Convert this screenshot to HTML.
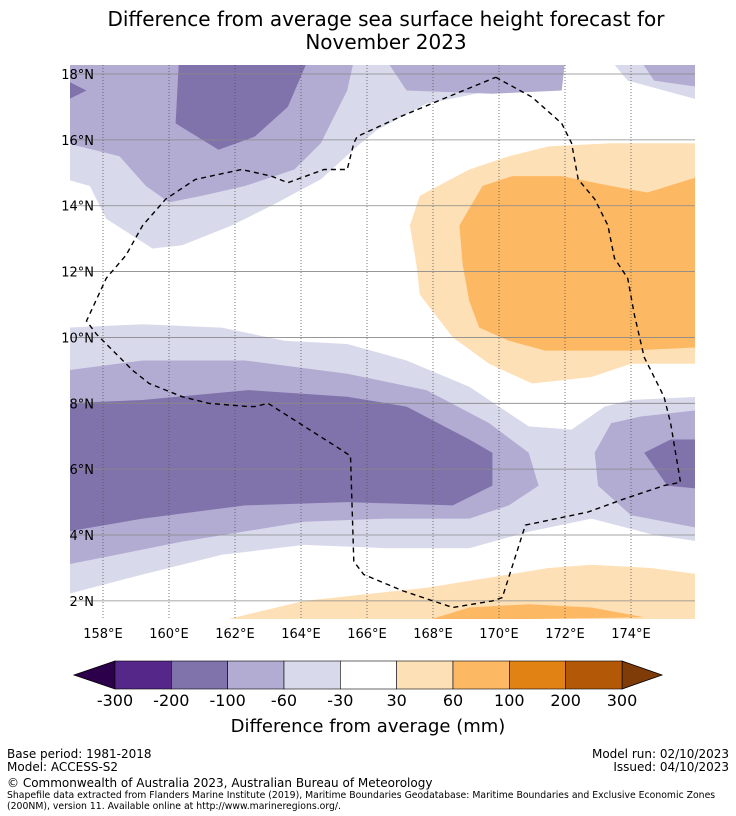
<!DOCTYPE html>
<html><head><meta charset="utf-8"><style>
body{margin:0;background:#fff;font-family:"DejaVu Sans","Liberation Sans",sans-serif;}
#wrap{position:relative;width:736px;height:816px;overflow:hidden;background:#fff}
.t{position:absolute;white-space:nowrap;color:#000}
</style></head><body>
<div id="wrap">
<div class="t" style="left:0;width:772px;text-align:center;top:8px;font-size:20px;line-height:23px">Difference from average sea surface height forecast for<br>November 2023</div>
<svg id="map" width="736" height="816" style="position:absolute;left:0;top:0"></svg>
<div class="t" style="left:0;width:736px;text-align:center;top:716px;font-size:18px">Difference from average (mm)</div>
<div class="t" style="left:7px;top:748px;font-size:12px;line-height:13px">Base period: 1981-2018<br>Model: ACCESS-S2</div>
<div class="t" style="right:7px;top:748px;font-size:12px;line-height:13px;text-align:right">Model run: 02/10/2023<br>Issued: 04/10/2023</div>
<div class="t" style="left:7px;top:776px;font-size:12px">© Commonwealth of Australia 2023, Australian Bureau of Meteorology</div>
<div class="t" style="left:7px;top:790px;font-size:9.3px;line-height:11px">Shapefile data extracted from Flanders Marine Institute (2019), Maritime Boundaries Geodatabase: Maritime Boundaries and Exclusive Economic Zones<br>(200NM), version 11. Available online at http://www.marineregions.org/.</div>
</div>
<script>
const levels=[-300,-200,-100,-60,-30,30,60,100,200,300];
const levelColors=["#542788","#8073ac","#b2abd2","#d8daeb","#ffffff","#fee0b6","#fdb863","#e08214","#b35806"];
const extendColors=["#2d004b","#7f3b08"];
const lonTicks=[158,160,162,164,166,168,170,172,174];
const latTicks=[2,4,6,8,10,12,14,16,18];
// contour regions: [colorIndex, polygon of [lon,lat]]
const contLightTop=[[156.9,18.4],[172.0,18.4],[171.9,17.5],[169.8,17.5],[167.8,17.1],[166.3,16.3],[165.7,15.8],[164.6,14.8],[163.1,14.0],[161.9,13.4],[160.4,12.8],[159.5,12.7],[158.1,13.6],[157.6,14.6],[156.9,14.8]];
const contMedTop=[[156.9,18.4],[165.6,18.4],[165.4,17.5],[164.6,15.9],[163.8,15.1],[162.3,14.6],[161.0,14.3],[160.0,14.1],[159.3,14.6],[158.5,15.5],[156.9,15.9]];
const contMedTopMid=[[166.6,18.4],[172.0,18.4],[171.9,17.5],[169.8,17.4],[167.2,17.5]];
const contLightTopRight=[[173.4,18.4],[176.1,18.4],[176.1,17.2],[173.9,17.8]];
const contMedTopRight=[[174.3,18.4],[176.1,18.4],[176.1,17.6],[174.7,17.8]];
const contDarkTop=[[160.3,18.4],[160.2,16.5],[161.5,15.7],[162.6,16.1],[163.6,17.0],[164.2,18.4]];
const contDarkTopLeft=[[156.9,17.8],[157.5,17.5],[156.9,17.2]];
const contLightLow=[[156.9,10.3],[159.2,10.4],[161.6,10.3],[163.5,9.9],[165.4,9.8],[167.2,9.3],[169.1,8.5],[170.9,7.3],[172.2,7.2],[173.2,7.9],[174.0,8.1],[176.1,8.2],[176.1,3.8],[174.7,4.0],[172.8,4.5],[170.9,4.1],[169.1,3.6],[166.6,3.6],[164.1,3.7],[161.6,3.4],[159.2,2.8],[156.9,2.2]];
const contMedLow=[[156.9,9.0],[159.2,9.3],[162.3,9.3],[165.4,8.9],[167.8,8.4],[169.7,7.4],[170.9,6.5],[171.2,5.5],[170.3,4.9],[169.1,4.5],[166.6,4.5],[164.1,4.4],[160.4,3.8],[156.9,3.1]];
const contMedLowRight=[[172.9,6.5],[173.4,7.4],[174.3,7.6],[176.1,7.8],[176.1,4.2],[174.0,4.6],[173.0,5.5]];
const contDarkLow=[[156.9,8.0],[159.2,8.1],[162.4,8.4],[165.4,8.2],[167.2,7.9],[169.1,6.9],[169.8,6.5],[169.8,5.5],[168.6,4.9],[165.4,5.0],[162.3,4.9],[159.2,4.5],[156.9,4.1]];
const contDarkLowRight=[[174.4,6.5],[175.2,6.9],[176.1,6.9],[176.1,5.4],[175.1,5.5]];
const contLightOrange=[[167.3,13.4],[167.6,14.3],[169.1,15.1],[170.3,15.5],[171.5,15.8],[173.4,15.9],[176.1,15.9],[176.1,9.2],[174.0,9.2],[172.8,8.8],[171.0,8.6],[169.7,9.2],[168.6,10.0],[167.6,11.3],[167.5,12.2]];
const contMedOrange=[[168.8,13.4],[169.5,14.6],[170.4,14.9],[171.9,14.9],[173.4,14.6],[174.5,14.4],[176.1,14.9],[176.1,9.7],[174.0,9.6],[171.4,9.6],[170.3,9.9],[169.4,10.3],[169.1,11.1],[168.9,12.2]];
const contLightOrangeLow=[[161.6,1.4],[164.1,2.0],[167.8,2.4],[170.3,2.8],[171.5,3.0],[172.8,3.1],[174.6,3.0],[176.1,2.8],[176.1,1.4]];
const contMedOrangeLow=[[167.8,1.4],[169.1,1.8],[170.9,1.9],[172.8,1.8],[174.4,1.5]];
const eezLine=[[169.9,17.9],[171.0,17.3],[171.9,16.5],[172.2,15.9],[172.4,14.8],[172.9,14.2],[173.3,13.4],[173.5,12.4],[173.9,11.8],[174.1,10.7],[174.4,9.4],[175.0,8.2],[175.2,7.4],[175.5,5.6],[175.0,5.5],[173.8,5.1],[172.7,4.7],[170.8,4.3],[170.1,2.1],[169.8,2.0],[168.6,1.8],[168.3,1.9],[167.1,2.3],[165.9,2.8],[165.6,3.2],[165.5,6.4],[165.2,6.6],[163.0,8.0],[162.6,7.9],[162.4,7.9],[161.2,8.0],[160.4,8.2],[159.4,8.6],[158.9,9.0],[157.8,10.1],[157.5,10.5],[158.1,11.8],[158.7,12.5],[159.2,13.4],[159.9,14.2],[160.8,14.8],[162.2,15.1],[163.1,14.9],[163.6,14.7],[164.7,15.1],[165.4,15.1],[165.6,15.9],[165.7,16.1],[167.0,16.7],[168.2,17.2],[169.9,17.9]];

const L=70,R=695,T=65,B=619;
const X=lon=>103+(lon-158)*33;
const Y=lat=>74+(18-lat)*32.93;
const NS="http://www.w3.org/2000/svg";
const svg=document.getElementById('map');
function mk(tag,attrs,parent){const e=document.createElementNS(NS,tag);for(const k in attrs)e.setAttribute(k,attrs[k]);(parent||svg).appendChild(e);return e;}
const defs=mk('defs',{});
const cp=mk('clipPath',{id:'clip'},defs);
mk('rect',{x:L,y:T,width:R-L,height:B-T},cp);
const g=mk('g',{'clip-path':'url(#clip)'});


mk('rect',{x:L,y:T,width:R-L,height:B-T,fill:'#fff'},g);
const layers=[[3,contLightTop,'contour-light-purple-north'],[2,contMedTop,'contour-mid-purple-north'],[2,contMedTopMid,'contour-mid-purple-north-center'],[3,contLightTopRight,'contour-light-purple-northeast'],[2,contMedTopRight,'contour-mid-purple-northeast'],[1,contDarkTop,'contour-dark-purple-north'],[1,contDarkTopLeft,'contour-dark-purple-northwest'],
[3,contLightLow,'contour-light-purple-south'],[2,contMedLow,'contour-mid-purple-south'],[2,contMedLowRight,'contour-mid-purple-southeast'],[1,contDarkLow,'contour-dark-purple-south'],[1,contDarkLowRight,'contour-dark-purple-southeast'],
[5,contLightOrange,'contour-light-orange'],[6,contMedOrange,'contour-orange'],[5,contLightOrangeLow,'contour-light-orange-south'],[6,contMedOrangeLow,'contour-orange-south']];
layers.forEach(([ci,poly,name])=>{
  const p=mk('polygon',{points:poly.map(q=>X(q[0]).toFixed(1)+','+Y(q[1]).toFixed(1)).join(' '),fill:levelColors[ci]},g);
  
  
});
latTicks.forEach(v=>{
  const l=mk('line',{x1:L,x2:R,y1:Y(v),y2:Y(v),stroke:'#888','stroke-width':0.8},g);
  
  
  const t=mk('text',{x:94,y:Y(v)+5,'text-anchor':'end','font-size':13,'font-family':'DejaVu Sans, Liberation Sans, sans-serif'});
  t.textContent=v+'°N';
  
  
});
lonTicks.forEach(v=>{
  const l=mk('line',{x1:X(v),x2:X(v),y1:T,y2:B,stroke:'#555','stroke-width':0.8,'stroke-dasharray':'1,2'},g);
  
  
  const t=mk('text',{x:X(v),y:638,'text-anchor':'middle','font-size':13,'font-family':'DejaVu Sans, Liberation Sans, sans-serif'});
  t.textContent=v+'°E';
  
  
});
const eez=mk('polyline',{points:eezLine.map(q=>X(q[0]).toFixed(1)+','+Y(q[1]).toFixed(1)).join(' '),fill:'none',stroke:'#000','stroke-width':1.4,'stroke-dasharray':'5,4'},g);


// colorbar
const cbL=115,cbR=622,cbT=661,cbB=689,n=levelColors.length,w=(cbR-cbL)/n;
const la=mk('polygon',{points:`${cbL},${cbT} 74,675 ${cbL},${cbB}`,fill:extendColors[0],stroke:'#000','stroke-width':0.8});


const ra=mk('polygon',{points:`${cbR},${cbT} 662,675 ${cbR},${cbB}`,fill:extendColors[1],stroke:'#000','stroke-width':0.8});


levelColors.forEach((c,i)=>{
  const r=mk('rect',{x:cbL+i*w,y:cbT,width:w,height:cbB-cbT,fill:c,stroke:'#000','stroke-width':0.6});
  
  
});
levels.forEach((v,i)=>{
  const t=mk('text',{x:cbL+i*w,y:706,'text-anchor':'middle','font-size':16,'font-family':'DejaVu Sans, Liberation Sans, sans-serif'});
  t.textContent=v;
  
  
});
</script>
</body></html>
